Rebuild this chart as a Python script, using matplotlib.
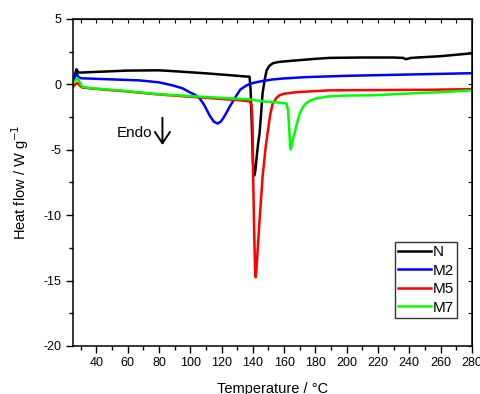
import numpy as np
import matplotlib
matplotlib.use("Agg")
import matplotlib.pyplot as plt
from matplotlib.ticker import MultipleLocator

plt.rcParams['font.family'] = ['Liberation Sans', 'DejaVu Sans']
plt.rcParams['axes.unicode_minus'] = False

# DSC curves
T_N = [25.3, 26, 27.2, 28.5, 30.4, 40, 60, 80, 90, 110, 125, 135, 137.9, 138.6, 139.3, 140, 140.5, 141, 141.6,
       142.5, 143.4, 144.3, 145.3, 146.2, 147.5, 148.8, 150.5, 152.6, 156, 160, 168, 180, 189, 210, 230,
       236, 238, 241, 260, 280]
N = [0.3, 0.6, 1.15, 0.9, 0.9, 0.95, 1.05, 1.07, 1.0, 0.84, 0.7, 0.6, 0.58, -0.5, -3.0, -5.8, -6.8, -6.96, -6.6,
     -5.5, -4.5, -3.75, -2.2, -0.7, 0.3, 1.07, 1.4, 1.6, 1.7, 1.75, 1.83, 1.95, 2.02, 2.05, 2.05,
     2.02, 1.92, 2.02, 2.15, 2.37]

T_M2 = [25.3, 26, 27.2, 28.5, 30.4, 40, 67.5, 80, 88.6, 95, 99.5, 103, 106, 109, 112.3, 115, 117.4, 119.5,
        121, 123, 125, 127.5, 129.6, 132, 136, 140, 146, 152.6, 160, 174, 200, 240, 280]
M2 = [0.3, 0.5, 0.84, 0.55, 0.46, 0.42, 0.3, 0.15, -0.08, -0.3, -0.6, -0.8, -1.07, -1.6, -2.37, -2.85, -3.0, -2.85,
      -2.6, -2.2, -1.75, -1.25, -0.84, -0.4, -0.08, 0.1, 0.25, 0.37, 0.45, 0.55, 0.65, 0.75, 0.85]

T_M5 = [25.3, 26.5, 28, 29.5, 31, 37.5, 60, 80, 100, 120, 130, 138, 139.2, 139.8, 140.2, 140.8, 141.4, 141.8,
        142.3, 143, 144.3, 146.2, 148, 149.4, 151, 152.6, 155, 157, 160, 168, 189, 220, 250, 280]
M5 = [-0.15, 0.0, 0.1, -0.1, -0.25, -0.33, -0.55, -0.78, -0.95, -1.12, -1.2, -1.3, -1.6, -3.0, -7.0, -11.0, -14.0, -14.75,
      -14.2, -12.8, -10.4, -7.1, -5.0, -3.75, -2.4, -1.5, -1.05, -0.84, -0.72, -0.6, -0.46, -0.44, -0.42, -0.37]

T_M7 = [25.3, 26.5, 28, 29.5, 31, 37.5, 60, 80, 100, 125, 138, 146, 155, 161.6, 162.5, 163.2, 163.8, 164.2,
        164.8, 165.6, 166.7, 168.2, 170, 172, 174, 177, 180.8, 189, 200, 216.6, 240, 260, 280]
M7 = [0.15, 0.3, 0.46, 0.1, -0.2, -0.3, -0.52, -0.76, -0.9, -1.07, -1.15, -1.3, -1.38, -1.47, -2.0, -3.3, -4.6, -4.97,
      -4.7, -4.2, -3.75, -3.0, -2.2, -1.75, -1.45, -1.22, -1.07, -0.92, -0.86, -0.84, -0.7, -0.6, -0.46]

series = [("N", T_N, N, "black"), ("M2", T_M2, M2, "#0000ff"),
          ("M5", T_M5, M5, "#ff0000"), ("M7", T_M7, M7, "#00ff00")]

fig = plt.figure(figsize=(4.8, 3.94), dpi=100)
ax = fig.add_axes([0.152, 0.122, 0.831, 0.830])

for name, t, v, c in series:
    ax.plot(t, v, color=c, lw=1.8, label=name)

ax.set_xlim(25, 280)
ax.set_ylim(-20, 5)
ax.xaxis.set_major_locator(MultipleLocator(20))
ax.xaxis.set_minor_locator(MultipleLocator(10))
ax.yaxis.set_major_locator(MultipleLocator(5))
ax.yaxis.set_minor_locator(MultipleLocator(2.5))
ax.set_xticks(np.arange(40, 281, 20))
ax.tick_params(which='both', direction='out', labelsize=9, width=1, pad=3)
ax.tick_params(which='major', length=5)
ax.tick_params(which='minor', length=3)
for s in ax.spines.values():
    s.set_linewidth(1.1)

# inward ticks on top and right
top = ax.secondary_xaxis('top')
top.xaxis.set_major_locator(MultipleLocator(10))
top.tick_params(direction='in', length=3, labeltop=False)
right = ax.secondary_yaxis('right')
right.yaxis.set_major_locator(MultipleLocator(2.5))
right.tick_params(direction='in', length=3, labelright=False)

ax.set_xlabel("Temperature / \u00b0C", fontsize=10.5, labelpad=9)
ax.set_ylabel("Heat flow / W g$^{-1}$", fontsize=10.5, labelpad=9)

ax.text(75.5, -3.75, "Endo", fontsize=11, ha='right', va='center')
ax.annotate("", xy=(82.2, -4.85), xytext=(82.2, -2.35),
            arrowprops=dict(arrowstyle='->,head_length=0.45,head_width=0.3', lw=1.4,
                            color='black', mutation_scale=18))

leg = ax.legend(loc='upper left', bbox_to_anchor=(0.807, 0.318), fontsize=11,
                frameon=True, fancybox=False, edgecolor='black', handlelength=2.15,
                handletextpad=0.1, borderpad=0.2, labelspacing=0.3, borderaxespad=0)
leg.get_frame().set_linewidth(1.0)

fig.savefig("out.png", dpi=100)
